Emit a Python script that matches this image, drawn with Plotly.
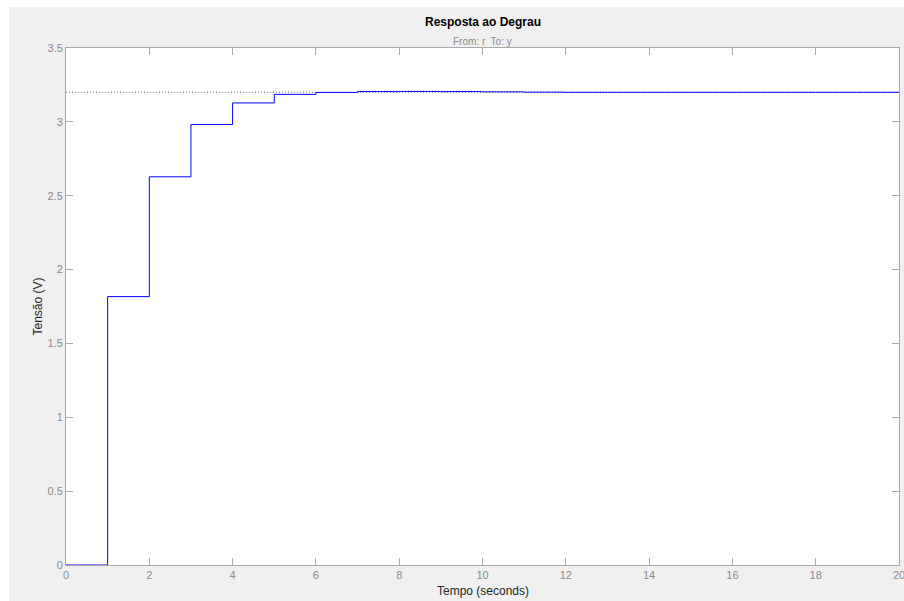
import plotly.graph_objects as go

# Discrete step response samples (one sample per second)
tempo = [0, 1, 2, 3, 4, 5, 6, 7, 8, 9, 10, 11, 12, 13, 14, 15, 16, 17, 18, 19, 20]
tensao = [0.0, 1.817, 2.628, 2.982, 3.128, 3.186, 3.199, 3.205, 3.206, 3.205, 3.203,
          3.201, 3.200, 3.200, 3.200, 3.200, 3.200, 3.200, 3.200, 3.200, 3.200]
valor_final = 3.2

x_ticks = [0, 2, 4, 6, 8, 10, 12, 14, 16, 18, 20]
y_ticks = [0, 0.5, 1, 1.5, 2, 2.5, 3, 3.5]

W, H = 904, 601
L, R, T, B = 66, 5, 48, 36
pw, ph = W - L - R, H - T - B

def px(x):
    return (x - L) / pw

def py(y):
    return (H - B - y) / ph

fig = go.Figure()

# steady-state reference line
fig.add_trace(go.Scatter(
    x=[tempo[0], tempo[-1]], y=[valor_final, valor_final],
    mode="lines", line=dict(color="#6e6e6e", width=1, dash="1px,2px"),
    hoverinfo="skip", showlegend=False,
))

# zero-order-hold step response
fig.add_trace(go.Scatter(
    x=tempo, y=tensao, mode="lines", line_shape="hv",
    line=dict(color="#0000ff", width=1), showlegend=False,
))

axis_color = "#a8a8a8"
tick_font = dict(family="Liberation Sans, Arial, sans-serif", size=11, color="#8a8a8a")

fig.update_xaxes(
    range=[0, 20], tickvals=x_ticks, ticktext=[str(v) for v in x_ticks],
    ticks="inside", ticklen=7, tickcolor=axis_color, tickwidth=1,
    showline=True, linecolor=axis_color, linewidth=1, mirror="ticks",
    showgrid=False, zeroline=False, tickfont=tick_font,
    ticklabeloverflow="allow", automargin=False,
)
fig.update_yaxes(
    range=[0, 3.5], tickvals=y_ticks, ticktext=[f"{v:g}" for v in y_ticks],
    ticks="inside", ticklen=7, tickcolor=axis_color, tickwidth=1,
    showline=True, linecolor=axis_color, linewidth=1, mirror="ticks",
    showgrid=False, zeroline=False, tickfont=tick_font,
    ticklabeloverflow="allow", automargin=False,
)

font_fam = "Liberation Sans, Arial, sans-serif"
annotations = [
    dict(text="<b>Resposta ao Degrau</b>", x=0.5, y=py(22), xref="paper", yref="paper",
         showarrow=False, xanchor="center", yanchor="middle",
         font=dict(family=font_fam, size=12, color="#000000")),
    dict(text="From: r  To: y", x=0.5, y=py(41), xref="paper", yref="paper",
         showarrow=False, xanchor="center", yanchor="middle",
         font=dict(family=font_fam, size=10, color="#8a8a8a")),
    dict(text="Tempo (seconds)", x=0.5, y=py(591), xref="paper", yref="paper",
         showarrow=False, xanchor="center", yanchor="middle",
         font=dict(family=font_fam, size=12, color="#262626")),
    dict(text="Tensão (V)", x=px(37), y=0.5, xref="paper", yref="paper",
         showarrow=False, xanchor="center", yanchor="middle", textangle=-90,
         font=dict(family=font_fam, size=12, color="#262626")),
]

# thin white frame along the top and left edges of the window
shapes = [
    dict(type="rect", xref="paper", yref="paper", x0=px(0), x1=px(W), y0=py(7), y1=py(-2),
         fillcolor="#ffffff", line=dict(width=0), layer="above"),
    dict(type="rect", xref="paper", yref="paper", x0=px(-2), x1=px(9), y0=py(H + 2), y1=py(-2),
         fillcolor="#ffffff", line=dict(width=0), layer="above"),
]

fig.update_layout(
    width=W, height=H,
    margin=dict(l=L, r=R, t=T, b=B, pad=0, autoexpand=False),
    paper_bgcolor="#f0f0f0", plot_bgcolor="#ffffff",
    annotations=annotations, shapes=shapes,
    font=dict(family=font_fam),
)

fig.write_html("out.html")
